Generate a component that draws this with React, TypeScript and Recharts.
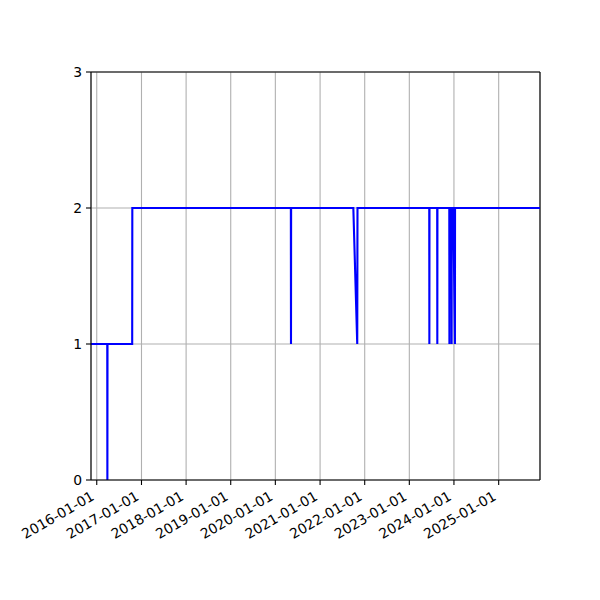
import { LineChart, Line, XAxis, YAxis, CartesianGrid, ReferenceLine } from 'recharts';

// dates and levels
const pointDates = [
    '2015-11-15', '2016-03-27', '2016-03-28', '2016-03-29',
    '2016-10-17', '2016-10-18',
    '2020-05-07', '2020-05-08', '2020-05-09',
    '2021-09-30', '2021-11-01', '2021-11-03',
    '2023-06-13', '2023-06-14', '2023-06-15',
    '2023-08-17', '2023-08-18', '2023-08-19',
    '2023-11-24', '2023-11-25', '2023-11-26',
    '2023-12-12', '2023-12-13', '2023-12-14',
    '2023-12-27', '2024-01-09', '2024-01-10',
    '2025-12-05',
];
const pointValues = [
    1, 1, 0, 1,
    1, 2,
    2, 1, 2,
    2, 1, 2,
    2, 1, 2,
    2, 1, 2,
    2, 1, 2,
    2, 1, 2,
    2, 1, 2,
    2,
];
const tickYears = [2016, 2017, 2018, 2019, 2020, 2021, 2022, 2023, 2024, 2025];
const yTicks = [0, 1, 2, 3];

const toTime = (s: string) => {
    const [y, m, d] = s.split('-').map(Number);
    return Date.UTC(y, m - 1, d);
};

const data = pointDates.map((d, i) => ({ t: toTime(d), v: pointValues[i] }));
const xTicks = tickYears.map((y) => Date.UTC(y, 0, 1));
const xMin = data[0].t;
const xMax = data[data.length - 1].t;

const FONT = 'DejaVu Sans';

const fmtDate = (t: number) => {
    const d = new Date(t);
    const m = String(d.getUTCMonth() + 1).padStart(2, '0');
    const day = String(d.getUTCDate()).padStart(2, '0');
    return `${d.getUTCFullYear()}-${m}-${day}`;
};

const DateTick = ({ x, y, payload }: any) => {
    const tx = x - 1.5;
    const ty = y + 14;
    return (
        <text
            x={tx}
            y={ty}
            textAnchor="end"
            transform={`rotate(-30, ${tx}, ${ty})`}
            fontFamily={FONT}
            fontSize={13.9}
            fill="#000"
        >
            {fmtDate(payload.value)}
        </text>
    );
};

export default function App() {
    return (
        <div style={{ position: 'absolute', left: 0, top: 0, width: 600, height: 600, background: '#fff' }}>
            <LineChart
                width={600}
                height={600}
                data={data}
                margin={{ top: 72, right: 60, bottom: 60, left: 0 }}
            >
                <CartesianGrid stroke="#b0b0b0" strokeWidth={1.1} />
                <XAxis
                    dataKey="t"
                    type="number"
                    domain={[xMin, xMax]}
                    ticks={xTicks}
                    allowDataOverflow
                    height={60}
                    tickSize={5}
                    tickMargin={0}
                    interval={0}
                    stroke="#000"
                    strokeWidth={1.1}
                    tick={<DateTick />}
                />
                <YAxis
                    type="number"
                    domain={[0, 3]}
                    ticks={yTicks}
                    width={91}
                    tickSize={5}
                    tickMargin={4}
                    interval={0}
                    stroke="#000"
                    strokeWidth={1.1}
                    tick={{ fill: '#000', fontSize: 13.9, fontFamily: FONT }}
                />
                <ReferenceLine y={3} stroke="#000" strokeWidth={1.1} />
                <ReferenceLine x={xMax} stroke="#000" strokeWidth={1.1} />
                <Line
                    type="linear"
                    dataKey="v"
                    stroke="#0000ff"
                    strokeWidth={2.1}
                    dot={false}
                    activeDot={false}
                    isAnimationActive={false}
                />
            </LineChart>
        </div>
    );
}
